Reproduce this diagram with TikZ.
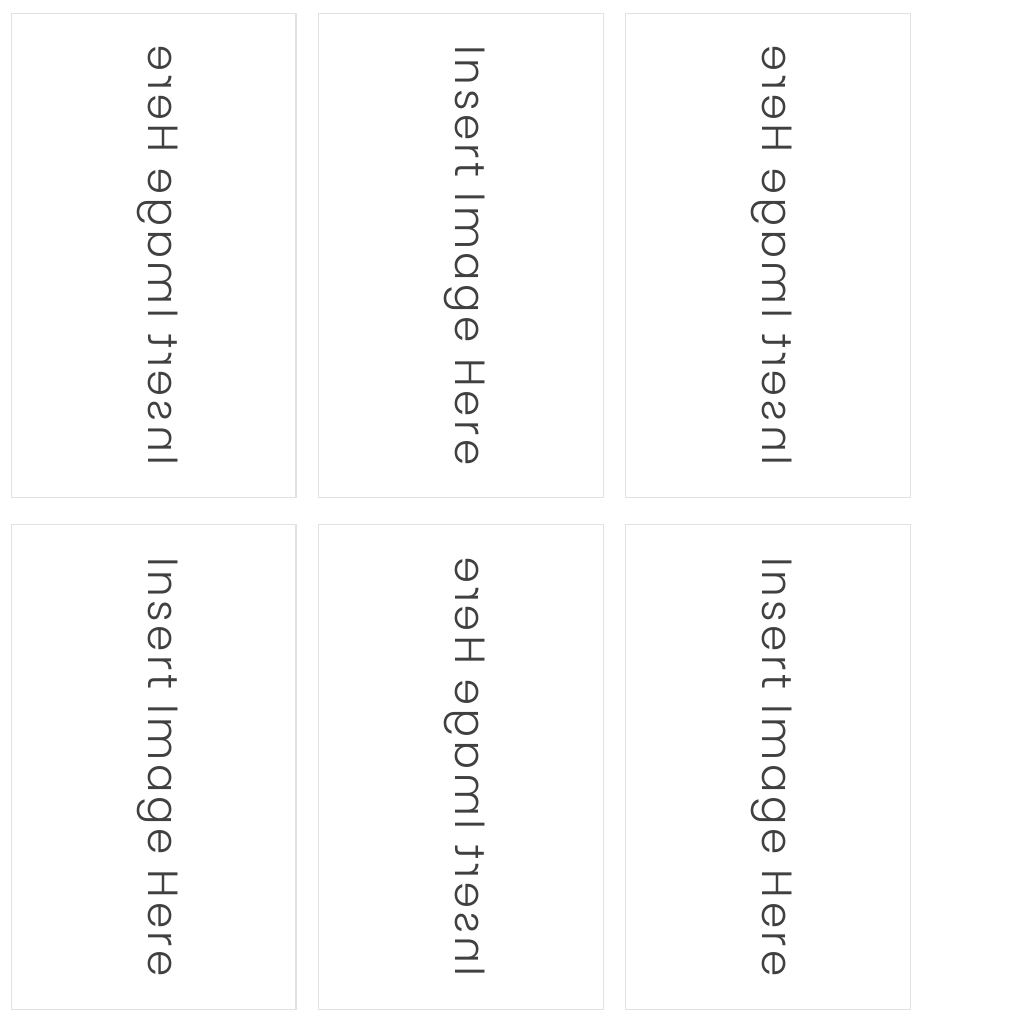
\documentclass[tikz,border=0pt]{standalone}
\usepackage{fontspec}
\setmainfont{Poppins}[UprightFont={* Light}, LetterSpace=8.5]
\definecolor{inkgray}{HTML}{404040}
\definecolor{edgegray}{HTML}{E2E2E2}
\begin{document}
\begin{tikzpicture}[x=0.02cm, y=-0.02cm,
    panel/.style={draw=edgegray, line width=0.6pt, minimum width=5.7cm, minimum height=9.7cm, inner sep=0pt, outer sep=0pt},
    caption/.style={text=inkgray, font=\fontsize{24}{28}\selectfont, inner sep=0pt}]
    \useasboundingbox (0,0) rectangle (1024,1024);
    \fill[white] (0,0) rectangle (1024,1024);
    
    % six panels, odd ones mirrored
    \foreach \n/\x/\y/\s in {p1/153.5/255.5/-1, p2/461/255.5/1, p3/768/255.5/-1,
                             p4/153.5/767/1, p5/461/767/-1, p6/768/767/1} {
        \node[panel] (\n) at (\x,\y) {};
        \node[caption, rotate=-90, xscale=\s] (\n t) at ([xshift=0.08cm]\n.center) {Insert Image Here};
    }
\end{tikzpicture}
\end{document}
